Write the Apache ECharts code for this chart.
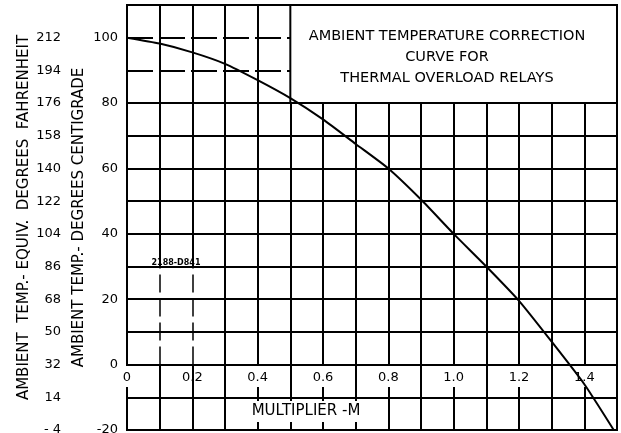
<!DOCTYPE html>
<html lang="en">
<head>
    <meta charset="UTF-8">
    <title>Ambient temperature correction curve</title>
    <script src="https://cdn.jsdelivr.net/npm/echarts@6/dist/echarts.min.js"></script>
</head>
<body style="margin:0;background:#fff">
<div id="chart" style="width: 621px;height: 433px;"></div>
<script>
    // multiplier M vs ambient temperature (deg C)
    var multiplier = [0, 0.1, 0.2, 0.3, 0.4, 0.5, 0.6, 0.7, 0.8, 0.9, 1.0, 1.1, 1.2, 1.3, 1.4, 1.49];
    var tempC = [100, 98.2, 95.5, 92, 87, 81.5, 75, 67.5, 60, 50.5, 40, 30, 19.5, 7, -6, -20];
    var dashedTemps = [90, 100];          // horizontal grid lines drawn dashed (left of title box)
    var brokenMults = [0.1, 0.2];         // vertical grid lines drawn broken below the drawing no.
    var titleLines = ['AMBIENT TEMPERATURE CORRECTION', 'CURVE FOR', 'THERMAL OVERLOAD RELAYS'];
    var drawingNo = '2188-D841';

    var font = 'DejaVu Sans';
    var curve = multiplier.map(function (m, i) { return [m, tempC[i]]; });

    // split lines at -20 .. 110, the ones at 90 and 100 are drawn dashed instead
    var hLineColors = [];
    for (var t = -20; t <= 110; t += 10) {
        hLineColors.push(dashedTemps.indexOf(t) >= 0 ? 'rgba(0,0,0,0)' : '#000');
    }
    // split lines at 0 .. 1.5, the ones at 0.1 and 0.2 are drawn as pieces
    var vLineColors = [];
    for (var k = 0; k <= 15; k++) {
        vLineColors.push(brokenMults.indexOf(k / 10) >= 0 ? 'rgba(0,0,0,0)' : '#000');
    }

    var solid = {color: '#000', width: 2, type: 'solid'};
    var lines = [];
    dashedTemps.forEach(function (t) {
        lines.push([{coord: [0, t], lineStyle: {color: '#000', width: 2, type: [26, 6]}}, {coord: [0.5, t]}]);
    });
    brokenMults.forEach(function (m) {
        lines.push([{coord: [m, 30], lineStyle: solid}, {coord: [m, 110]}]);
        lines.push([{coord: [m, -20], lineStyle: solid}, {coord: [m, 0]}]);
        lines.push([{coord: [m, 0], lineStyle: {color: '#000', width: 1.5, type: [18, 6]}}, {coord: [m, 30]}]);
    });

    var myChart = echarts.init(document.getElementById('chart'));
    var option = {
        backgroundColor: '#fff',
        animation: false,
        title: {
            text: titleLines.join('\n'),
            left: 442,
            top: 21,
            textAlign: 'center',
            textStyle: {
                fontFamily: font,
                fontSize: 14.5,
                fontWeight: 'normal',
                color: '#000',
                lineHeight: 21
            }
        },
        grid: {
            left: 127, right: 4, top: 5, bottom: 3,
            outerBoundsMode: 'none',
            show: true,
            borderColor: '#000',
            borderWidth: 2
        },
        xAxis: {
            type: 'value',
            min: 0,
            max: 1.5,
            interval: 0.1,
            name: '{a|MULTIPLIER -M}',
            nameLocation: 'middle',
            nameGap: -29,
            nameMoveOverlap: false,
            nameTextStyle: {
                padding: [0, 132, 0, 0],
                rich: {
                    a: {
                        fontFamily: font, fontSize: 15, color: '#000',
                        backgroundColor: '#fff', padding: [3, 3, 3, 3]
                    }
                }
            },
            axisLine: {show: false},
            axisTick: {show: false},
            splitLine: {show: true, lineStyle: {color: vLineColors, width: 2}},
            axisLabel: {
                margin: -64,
                showMaxLabel: false,
                formatter: function (v) {
                    var k = Math.round(v * 10);
                    if (k % 2 !== 0) return '';
                    return '{a|' + (k === 0 ? '0' : (k / 10).toFixed(1)) + '}';
                },
                rich: {
                    a: {
                        fontFamily: font, fontSize: 13, color: '#000',
                        backgroundColor: '#fff', padding: [5, 3, 3, 3]
                    }
                }
            }
        },
        yAxis: [{
            type: 'value',
            min: -20,
            max: 110,
            interval: 10,
            name: 'AMBIENT TEMP.- DEGREES CENTIGRADE',
            nameLocation: 'middle',
            nameGap: 40,
            nameMoveOverlap: false,
            nameTextStyle: {fontFamily: font, fontSize: 15, color: '#000'},
            axisLine: {show: false},
            axisTick: {show: false},
            axisLabel: {
                margin: 9,
                fontFamily: font, fontSize: 13, color: '#000',
                formatter: function (v) {
                    return (v % 20 === 0 && v <= 100) ? String(v) : '';
                }
            },
            splitLine: {show: true, lineStyle: {color: hLineColors, width: 2}}
        }, {
            type: 'value',
            position: 'left',
            offset: 57,
            min: -20,
            max: 110,
            interval: 10,
            name: 'AMBIENT  TEMP.- EQUIV.  DEGREES  FAHRENHEIT',
            nameLocation: 'middle',
            nameGap: 38,
            nameMoveOverlap: false,
            nameTextStyle: {fontFamily: font, fontSize: 15, color: '#000'},
            axisLine: {show: false},
            axisTick: {show: false},
            splitLine: {show: false},
            axisLabel: {
                margin: 9,
                fontFamily: font, fontSize: 13, color: '#000',
                formatter: function (v) {
                    if (v > 100) return '';
                    var f = Math.round(v * 9 / 5 + 32);
                    return f < 0 ? '- ' + Math.abs(f) : String(f);
                }
            }
        }],
        series: [{
            type: 'line',
            data: curve,
            smooth: 0.2,
            showSymbol: false,
            lineStyle: {color: '#000', width: 2},
            markArea: {
                silent: true,
                itemStyle: {color: '#fff', borderColor: '#000', borderWidth: 2},
                data: [[{coord: [0.5, 80]}, {coord: [1.5, 110]}]]
            },
            markLine: {
                silent: true,
                symbol: 'none',
                label: {show: false},
                data: lines
            },
            markPoint: {
                silent: true,
                symbol: 'rect',
                symbolSize: 0,
                label: {
                    show: true, position: 'inside', color: '#000',
                    fontFamily: font, fontSize: 8, fontWeight: 'bold',
                    formatter: drawingNo
                },
                data: [{coord: [0.15, 31]}]
            }
        }]
    };
    myChart.setOption(option);
</script>
</body>
</html>
